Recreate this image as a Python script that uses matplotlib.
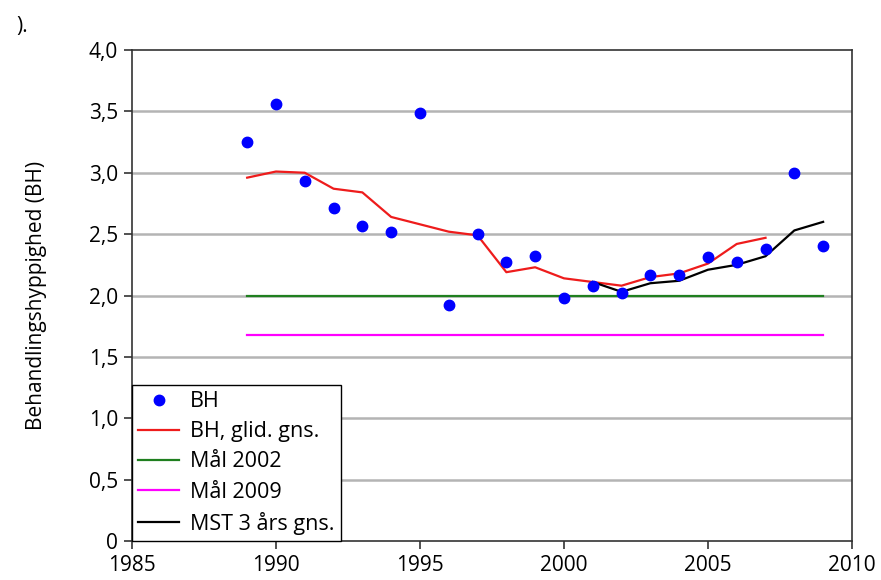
import matplotlib
matplotlib.use("Agg")
import matplotlib.pyplot as plt

plt.rcParams['font.family'] = ['Open Sans', 'DejaVu Sans']

# BH per year (dots)
years = list(range(1989, 2010))
bh = [3.25, 3.56, 2.93, 2.71, 2.57, 2.52, 3.49, 1.92, 2.50, 2.27, 2.32,
      1.98, 2.08, 2.02, 2.17, 2.17, 2.31, 2.27, 2.38, 3.00, 2.40]

# moving average (red)
glid_years = list(range(1989, 2008))
glid = [2.96, 3.01, 3.00, 2.87, 2.84, 2.64, 2.58, 2.52, 2.49, 2.19, 2.23,
        2.14, 2.11, 2.08, 2.15, 2.18, 2.26, 2.42, 2.47]

# MST 3 year average (black)
mst_years = list(range(2001, 2010))
mst = [2.11, 2.03, 2.10, 2.12, 2.21, 2.25, 2.32, 2.53, 2.60]

goal_years = [1989, 2009]
maal_2002 = [2.0, 2.0]
maal_2009 = [1.68, 1.68]

yticks = [0, 0.5, 1.0, 1.5, 2.0, 2.5, 3.0, 3.5, 4.0]
ytick_labels = ['0', '0,5', '1,0', '1,5', '2,0', '2,5', '3,0', '3,5', '4,0']
xticks = [1985, 1990, 1995, 2000, 2005, 2010]

fig = plt.figure(figsize=(8.81, 5.80), dpi=100)
ax = fig.add_axes([0.1498, 0.0672, 0.8172, 0.8466])

for y in yticks[1:-1]:
    ax.axhline(y, color='#b4b4b4', lw=1.8, zorder=0)

ax.plot(years, bh, 'o', color='#0000ff', ms=7.5, label='BH', zorder=5)
ax.plot(glid_years, glid, color='#ee1c1c', lw=1.6, label='BH, glid. gns.', zorder=3)
ax.plot(goal_years, maal_2002, color='#1f7f1f', lw=1.6, label='Mål 2002', zorder=2)
ax.plot(goal_years, maal_2009, color='#ff00ff', lw=1.6, label='Mål 2009', zorder=2)
ax.plot(mst_years, mst, color='black', lw=1.6, label='MST 3 års gns.', zorder=4)

ax.set_xlim(1985, 2010)
ax.set_ylim(0, 4.0)
ax.set_xticks(xticks)
ax.set_xticklabels([str(x) for x in xticks], fontsize=15)
ax.set_yticks(yticks)
ax.set_yticklabels(ytick_labels, fontsize=15)
ax.tick_params(direction='out', length=6, width=1.2, color='#333333', pad=4)
for s in ax.spines.values():
    s.set_color('#333333')
    s.set_linewidth(1.2)

ax.set_ylabel('Behandlingshyppighed (BH)', fontsize=15, labelpad=30)

leg = ax.legend(loc='lower left', fontsize=15.5, frameon=True, fancybox=False,
                borderaxespad=0, handlelength=1.9, handletextpad=0.5,
                labelspacing=0.42, borderpad=0.3, framealpha=1)
leg.get_frame().set_edgecolor('black')
leg.get_frame().set_linewidth(1.0)

fig.text(0.018, 0.945, ').', fontsize=15)

plt.savefig('out.png', dpi=100)
